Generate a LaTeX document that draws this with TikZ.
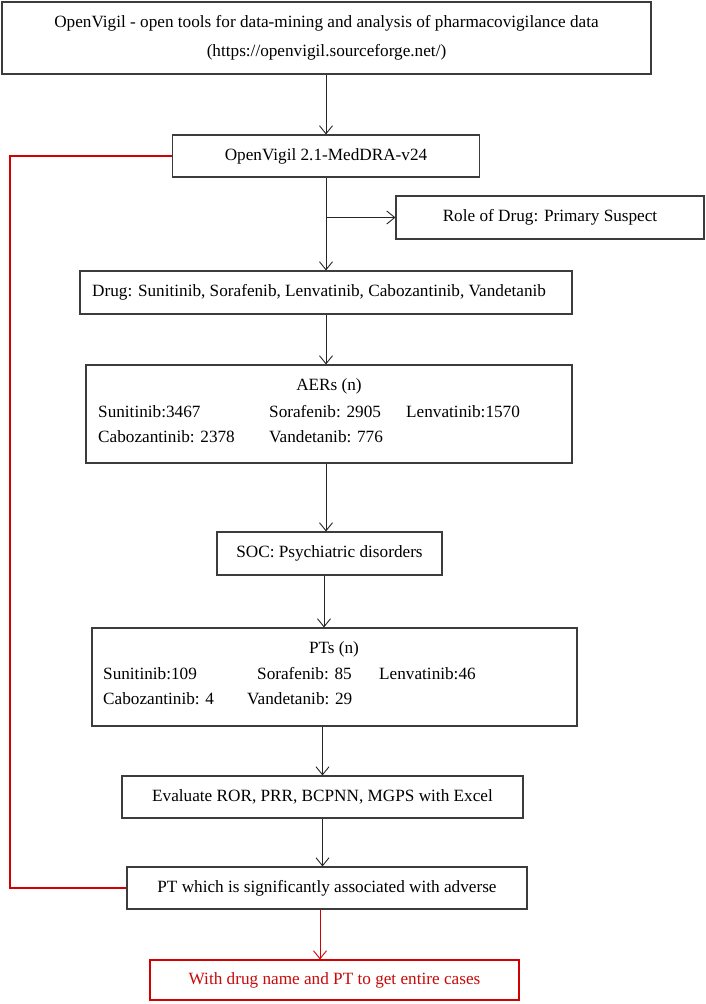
\documentclass[tikz,border=0pt]{standalone}
\usepackage{fontspec}
\setmainfont{Liberation Serif}
\usetikzlibrary{arrows.meta}
\definecolor{boxline}{RGB}{60,60,60}
\definecolor{redln}{RGB}{210,0,0}
\definecolor{redtx}{RGB}{200,10,10}
\tikzset{
  box/.style={draw=boxline, line width=1.1pt, inner sep=0pt, align=center,
    font=\fontsize{17.2}{28.5}\selectfont},
  txt/.style={inner sep=0pt, font=\fontsize{17.2}{20}\selectfont},
  arr/.style={draw=black!85, line width=0.9pt, -{Straight Barb[length=8pt,width=13pt,line width=0.9pt]}},
  redarr/.style={draw=redln, line width=0.9pt, -{Straight Barb[length=8pt,width=13pt,line width=0.9pt]}},
  redline/.style={draw=redln, line width=2pt},
}
\begin{document}
\begin{tikzpicture}[x=1pt,y=-1pt]
\useasboundingbox[fill=white] (0,0) rectangle (706,1004);

\node[box, minimum width=649pt, minimum height=72pt] (top) at (326.5,38)
  {OpenVigil - open tools for data-mining and analysis of pharmacovigilance data\\(https://openvigil.sourceforge.net/)};
\node[box, minimum width=307pt, minimum height=42pt] (ov) at (326,156) {OpenVigil 2.1-MedDRA-v24};
\node[box, minimum width=308pt, minimum height=43pt] (role) at (550,217.5) {Role of Drug: Primary Suspect};
\node[box, minimum width=492pt, minimum height=43pt] (drug) at (326,292.5) {};
\node[txt, anchor=west] (drugt) at (92,292.5) {Drug: Sunitinib, Sorafenib, Lenvatinib, Cabozantinib, Vandetanib};

\node[box, minimum width=486pt, minimum height=98pt] (aers) at (329,414) {};
\node[txt] (aerst) at (329,386) {AERs (n)};
\node[txt, anchor=west] (a1) at (98,412) {Sunitinib:3467};
\node[txt, anchor=west] (a2) at (269,412) {Sorafenib: 2905};
\node[txt, anchor=west] (a3) at (406,412) {Lenvatinib:1570};
\node[txt, anchor=west] (a4) at (98,437) {Cabozantinib: 2378};
\node[txt, anchor=west] (a5) at (269,437) {Vandetanib: 776};

\node[box, minimum width=225pt, minimum height=43pt] (soc) at (329.5,553.5) {SOC: Psychiatric disorders};

\node[box, minimum width=485pt, minimum height=98pt] (pts) at (334.5,677) {};
\node[txt] (ptst) at (334,649) {PTs (n)};
\node[txt, anchor=west] (p1) at (103,674) {Sunitinib:109};
\node[txt, anchor=west] (p2) at (257,674) {Sorafenib: 85};
\node[txt, anchor=west] (p3) at (379,674) {Lenvatinib:46};
\node[txt, anchor=west] (p4) at (103,699) {Cabozantinib: 4};
\node[txt, anchor=west] (p5) at (247,699) {Vandetanib: 29};

\node[box, minimum width=401pt, minimum height=42pt] (eval) at (322.5,797) {Evaluate ROR, PRR, BCPNN, MGPS with Excel};
\node[box, minimum width=400pt, minimum height=42pt] (pt) at (327,888) {PT which is significantly associated with adverse};
\node[box, draw=redln, text=redtx, minimum width=369pt, minimum height=40pt] (red) at (334.5,980) {With drug name and PT to get entire cases};

\coordinate (c1) at (324,0);
\coordinate (c2) at (320,0);
\coordinate (rl) at (10,500);

\draw[arr] (ov.north |- top.south) -- (ov.north);
\draw[arr] (ov.south) -- (ov.south |- drug.north);
\coordinate (br) at (ov.south |- role.west);
\draw[arr] (br) -- (role.west);
\draw[arr] (drug.south) -- (drug.south |- aers.north);
\draw[arr] (aers.south -| drug.south) -- (soc.north -| drug.south);
\draw[arr] (soc.south -| c1) -- (pts.north -| c1);
\draw[arr] (pts.south -| eval.north) -- (eval.north);
\draw[arr] (eval.south) -- (eval.south |- pt.north);
\draw[redarr] (pt.south -| c2) -- (red.north -| c2);
\draw[redline] (ov.west) -| (rl) |- (pt.west);
\end{tikzpicture}
\end{document}
